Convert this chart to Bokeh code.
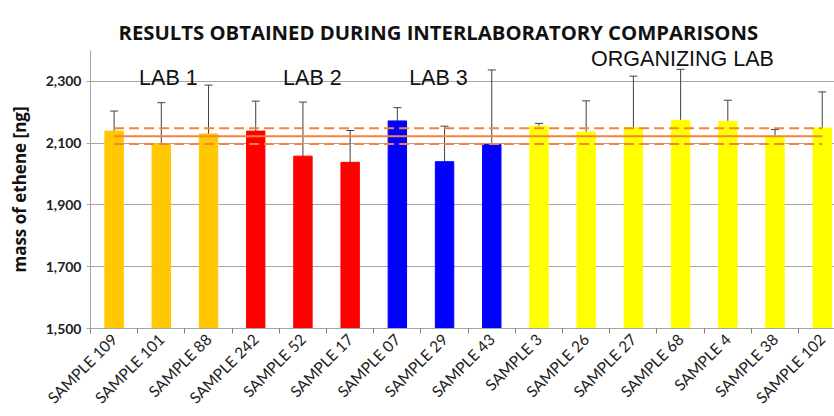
import math
from bokeh.plotting import figure
from bokeh.models import (ColumnDataSource, Range1d, FixedTicker, NumeralTickFormatter,
                          Whisker, TeeHead, Label)
from bokeh.embed import file_html
from bokeh.resources import INLINE

# ---- data ----
samples = ["SAMPLE 109", "SAMPLE 101", "SAMPLE 88", "SAMPLE 242", "SAMPLE 52", "SAMPLE 17",
           "SAMPLE 07", "SAMPLE 29", "SAMPLE 43", "SAMPLE 3", "SAMPLE 26", "SAMPLE 27",
           "SAMPLE 68", "SAMPLE 4", "SAMPLE 38", "SAMPLE 102"]
labs = ["LAB 1"] * 3 + ["LAB 2"] * 3 + ["LAB 3"] * 3 + ["ORGANIZING LAB"] * 7
mass = [2139, 2098, 2130, 2139, 2058, 2038, 2172, 2040, 2096, 2155, 2136, 2150, 2174, 2171, 2122, 2149]
err = [65, 133, 158, 97, 175, 103, 43, 115, 241, 9, 101, 167, 165, 68, 22, 117]
ref_mean = 2122
ref_upper = 2148
ref_lower = 2097
y_ticks = [1500, 1700, 1900, 2100, 2300]

lab_colors = {"LAB 1": "#FFC800", "LAB 2": "#FF0000", "LAB 3": "#0000FF", "ORGANIZING LAB": "#FFFF00"}

xs = list(range(len(samples)))
src = ColumnDataSource(dict(
    x=xs, mass=mass, color=[lab_colors[l] for l in labs],
    upper=[m + e for m, e in zip(mass, err)],
    lower=[m - e for m, e in zip(mass, err)],
))

p = figure(width=834, height=416, output_backend="svg", toolbar_location=None,
           x_range=Range1d(-0.5, 15.26), y_range=Range1d(1500, 2400),
           min_border_left=90, min_border_right=0, min_border_top=50, min_border_bottom=88)
p.outline_line_color = None
p.background_fill_color = "white"

p.vbar(x="x", top="mass", bottom=1500, width=0.39, color="color", source=src)

wh = Whisker(base="x", upper="upper", lower="lower", source=src,
             line_color="#404040", line_width=1,
             upper_head=TeeHead(size=8, line_color="#404040", line_width=1),
             lower_head=TeeHead(size=8, line_color="#404040", line_width=1))
p.add_layout(wh)

orange = "#F9823A"
p.line([xs[0], xs[-1]], [ref_mean, ref_mean], line_color=orange, line_width=2)
p.line([xs[0], xs[-1]], [ref_upper, ref_upper], line_color=orange, line_width=2, line_dash="10 5")
p.line([xs[0], xs[-1]], [ref_lower, ref_lower], line_color=orange, line_width=2, line_dash="10 5")

# group labels
for txt, gx, gy in [("LAB 1", 1.15, 2310), ("LAB 2", 4.2, 2310), ("LAB 3", 6.87, 2310),
                    ("ORGANIZING LAB", 12.04, 2374)]:
    p.add_layout(Label(x=gx, y=gy, text=txt, text_align="center", text_baseline="alphabetic",
                       text_font="Liberation Sans", text_font_size="21.5px", text_color="#111111"))

# title
p.title.text = "RESULTS OBTAINED DURING INTERLABORATORY COMPARISONS"
p.title.text_font = "Open Sans"
p.title.text_font_style = "bold"
p.title.text_font_size = "20.3px"
p.title.align = "left"
p.title.offset = 28
p.title.text_color = "#111111"

# axes
p.xgrid.grid_line_color = None
p.ygrid.ticker = FixedTicker(ticks=y_ticks)
p.ygrid.grid_line_color = "#A6A6A6"
p.ygrid.grid_line_width = 1

p.yaxis.ticker = FixedTicker(ticks=y_ticks)
p.yaxis.formatter = NumeralTickFormatter(format="0,0")
p.yaxis.axis_line_color = "#A6A6A6"
p.yaxis.major_tick_line_color = "#A6A6A6"
p.yaxis.major_tick_out = 4
p.yaxis.major_tick_in = 0
p.yaxis.minor_tick_line_color = None
p.yaxis.major_label_text_font = "Lato"
p.yaxis.major_label_text_font_style = "bold"
p.yaxis.major_label_text_font_size = "14px"
p.yaxis.major_label_text_color = "#222222"
p.yaxis.major_label_standoff = 5
p.yaxis.axis_label = "mass of ethene [ng]"
p.yaxis.axis_label_text_font = "Open Sans"
p.yaxis.axis_label_text_font_style = "bold"
p.yaxis.axis_label_text_font_size = "17px"
p.yaxis.axis_label_text_color = "#111111"
p.yaxis.axis_label_standoff = 12

p.xaxis.ticker = FixedTicker(ticks=xs, minor_ticks=[i - 0.5 for i in range(len(samples) + 1)])
p.xaxis.major_label_overrides = {i: s for i, s in enumerate(samples)}
p.xaxis.major_label_orientation = math.pi / 4
p.xaxis.major_label_text_font = "Lato"
p.xaxis.major_label_text_font_size = "15.5px"
p.xaxis.major_label_text_color = "#222222"
p.xaxis.major_label_standoff = 2
p.xaxis.axis_line_color = "#A6A6A6"
p.xaxis.major_tick_line_color = None
p.xaxis.minor_tick_line_color = "#808080"
p.xaxis.minor_tick_out = 5
p.xaxis.minor_tick_in = 0

open("out.html", "w").write(file_html(p, INLINE))
